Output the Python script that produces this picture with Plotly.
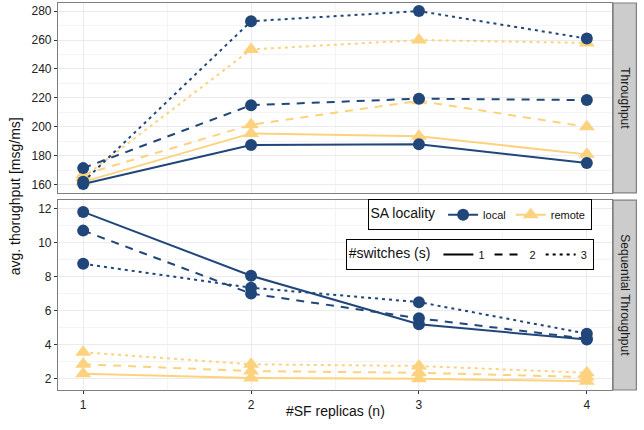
import plotly.graph_objects as go
from plotly.subplots import make_subplots

replicas = [1, 2, 3, 4]
switches = [1, 2, 3]
localities = ["local", "remote"]

# Throughput panel [msg/ms]
tp_local = {1: [160.5, 187.5, 188.0, 175.0],
            2: [171.5, 215.0, 219.5, 218.5],
            3: [162.0, 273.0, 280.0, 261.0]}
tp_remote = {1: [162.0, 195.5, 193.5, 181.0],
             2: [167.0, 201.5, 218.0, 200.0],
             3: [165.0, 253.5, 260.0, 258.0]}

# Sequential throughput panel [msg/ms]
seq_local = {1: [11.8, 8.05, 5.2, 4.3],
             2: [10.7, 7.0, 5.55, 4.35],
             3: [8.75, 7.35, 6.5, 4.65]}
seq_remote = {1: [2.3, 2.05, 2.0, 1.85],
              2: [2.85, 2.45, 2.35, 2.1],
              3: [3.55, 2.85, 2.75, 2.35]}

panel_labels = ["Throughput", "Sequential Throughput"]

colors = {"local": "#21467a", "remote": "#fdd27e"}
symbols = {"local": "circle", "remote": "triangle-up"}
msize = {"local": 12, "remote": 14}
dashes = {1: "solid", 2: "8px,7px", 3: "3px,4px"}

FONT = "Liberation Sans, Arial, sans-serif"

fig = make_subplots(rows=2, cols=1, shared_xaxes=True, vertical_spacing=0.0188)

data = [(tp_local, tp_remote), (seq_local, seq_remote)]
for r, (dl, dr) in enumerate(data, start=1):
    for loc, d in (("remote", dr), ("local", dl)):
        for s in switches:
            fig.add_trace(go.Scatter(
                x=replicas, y=d[s], mode="lines+markers",
                line=dict(color=colors[loc], width=2, dash=dashes[s]),
                marker=dict(color=colors[loc], symbol=symbols[loc], size=msize[loc]),
                showlegend=False, hoverinfo="x+y"), row=r, col=1)

# legend entries
for loc in localities:
    fig.add_trace(go.Scatter(
        x=[None], y=[None], mode="lines+markers", name=loc,
        line=dict(color=colors[loc], width=2),
        marker=dict(color=colors[loc], symbol=symbols[loc], size=msize[loc]),
        legend="legend"), row=2, col=1)
for s in switches:
    fig.add_trace(go.Scatter(
        x=[None], y=[None], mode="lines", name=str(s),
        line=dict(color="black", width=2, dash=dashes[s]),
        legend="legend2"), row=2, col=1)

grid = "#ebebeb"
minor_grid = "#f4f4f4"
border = "#7f7f7f"
tickfont = dict(family=FONT, size=12, color="#222222")

axis_common = dict(showline=True, linecolor=border, linewidth=1.2, mirror=True,
                   gridcolor=grid, gridwidth=1, zeroline=False, tickfont=tickfont,
                   ticks="outside", ticklen=3, tickcolor="#333333", automargin=False)

fig.update_xaxes(**axis_common, range=[0.85, 4.15], tickvals=replicas,
                 minor=dict(showgrid=True, gridcolor=minor_grid, tick0=0.5, dtick=1))
fig.update_xaxes(ticks="", showticklabels=False, row=1, col=1)
fig.update_yaxes(**axis_common)
fig.update_yaxes(range=[154.4, 285.6], tick0=160, dtick=20,
                 minor=dict(showgrid=True, gridcolor=minor_grid, tick0=150, dtick=20),
                 row=1, col=1)
fig.update_yaxes(range=[1.34, 12.49], tick0=2, dtick=2,
                 minor=dict(showgrid=True, gridcolor=minor_grid, tick0=1, dtick=2),
                 row=2, col=1)

# facet strips
domains = [fig.layout.yaxis.domain, fig.layout.yaxis2.domain]
for lab, dom in zip(panel_labels, domains):
    fig.add_shape(type="rect", xref="paper", yref="paper", x0=1.002, x1=1.044,
                  y0=dom[0], y1=dom[1], fillcolor="#cccccc", line=dict(color=border, width=1.2),
                  layer="below")
    fig.add_annotation(xref="paper", yref="paper", x=1.023, y=(dom[0] + dom[1]) / 2,
                       xanchor="center", yanchor="middle",
                       text=lab, textangle=90, showarrow=False,
                       font=dict(family=FONT, size=12, color="#1a1a1a"))

fig.add_annotation(xref="paper", yref="paper", x=-0.078, y=0.5, text="avg. thorughput [msg/ms]",
                   textangle=-90, showarrow=False, xanchor="center", yanchor="middle",
                   font=dict(family=FONT, size=14, color="#111"))
fig.add_annotation(xref="paper", yref="paper", x=0.5, y=-0.054, text="#SF replicas (n)",
                   showarrow=False, xanchor="center", yanchor="middle",
                   font=dict(family=FONT, size=14, color="#111"))

legend_common = dict(orientation="h", bgcolor="white", bordercolor="black", borderwidth=1,
                     xref="paper", yref="paper", xanchor="right", yanchor="top",
                     font=dict(family=FONT, size=11, color="#111"),
                     itemwidth=30, tracegroupgap=0)
fig.update_layout(
    legend=dict(**legend_common, x=0.963, y=0.493,
                title=dict(text="SA locality", side="left", font=dict(family=FONT, size=14))),
    legend2=dict(**legend_common, x=0.967, y=0.390,
                 title=dict(text="#switches (s)", side="left", font=dict(family=FONT, size=14))),
)

fig.update_layout(width=644, height=430, margin=dict(l=58, r=32, t=3, b=40),
                  plot_bgcolor="white", paper_bgcolor="white",
                  font=dict(family=FONT))

fig.write_html("out.html", config={"displayModeBar": False},
               post_script="document.body.style.margin='0';")
